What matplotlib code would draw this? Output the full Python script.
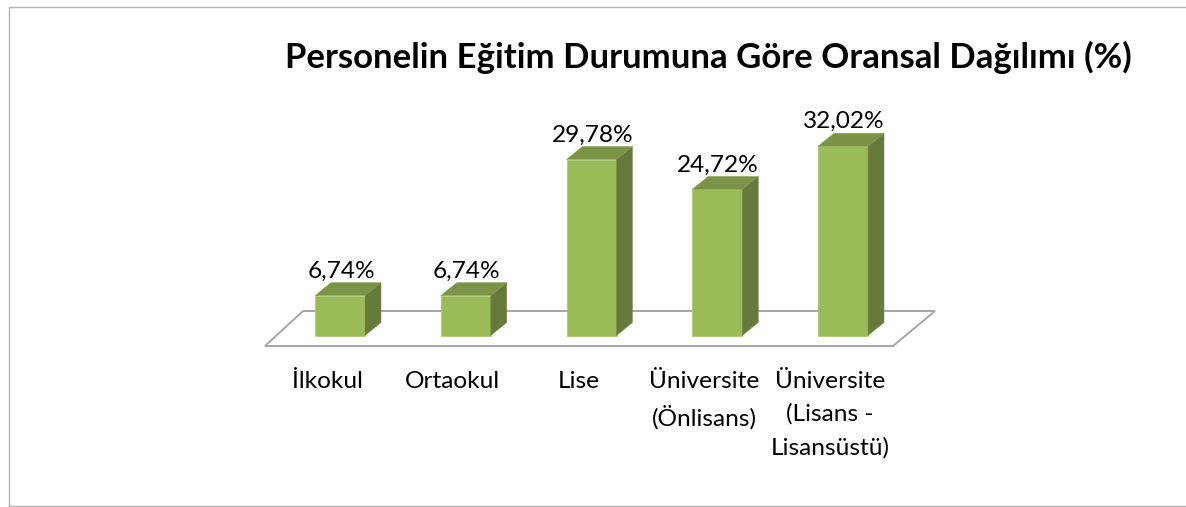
import matplotlib
matplotlib.use("Agg")
import matplotlib.pyplot as plt
from matplotlib.patches import Polygon, Rectangle

categories = ["İlkokul", "Ortaokul", "Lise", "Üniversite\n(Önlisans)", "Üniversite\n(Lisans -\nLisansüstü)"]
values = [6.74, 6.74, 29.78, 24.72, 32.02]
title = "Personelin Eğitim Durumuna Göre Oransal Dağılımı (%)"

W, H = 1186, 507
x_px = 125.75  # pixels per category
y_px = 5.91    # pixels per percent
x0_px = 340
y0_px = 335.5

plt.rcParams["font.family"] = ["Lato", "DejaVu Sans"]

fig = plt.figure(figsize=(W / 100, H / 100), dpi=100)
ax = fig.add_axes([0, 0, 1, 1])
ax.set_xlim(-x0_px / x_px, (W - x0_px) / x_px)
ax.set_ylim(-(H - y0_px) / y_px, y0_px / y_px)
ax.axis("off")

# chart frame, runs off the right edge
fig.add_artist(Rectangle((9 / W, 1 - 506 / H), 1.0, 499 / H, transform=fig.transFigure,
                         fill=False, ec="#b5b5b5", lw=1))

width = 50 / x_px
dx = 16 / x_px
dy = 13 / y_px

# floor
floor_l = -75 / x_px
floor_r = 553 / x_px
floor_low = -10.5 / y_px
floor = [(floor_l, floor_low), (floor_l + 38 / x_px, floor_low + 35 / y_px),
         (floor_r + 42 / x_px, floor_low + 35 / y_px), (floor_r, floor_low)]
ax.add_patch(Polygon(floor, closed=True, fill=False, ec="#a6a6a6", lw=1.4, zorder=1))

positions = list(range(len(values)))
ax.bar(positions, values, width=width, color="#9bbb59", edgecolor="#a9c76e", lw=0.5, zorder=3)

for x, v in zip(positions, values):
    l, r = x - width / 2, x + width / 2
    top = [(l, v), (r, v), (r + dx, v + dy), (l + dx, v + dy)]
    side = [(r, 0), (r + dx, dy), (r + dx, v + dy), (r, v)]
    ax.add_patch(Polygon(top, closed=True, fc="#7a9347", ec="#8fa85c", lw=0.4, zorder=3))
    ax.add_patch(Polygon(side, closed=True, fc="#667a3c", ec="#7d9150", lw=0.4, zorder=3))
    ax.text(x + 1 / x_px, v + dy + 1 / y_px, f"{v:.2f}%".replace(".", ","), ha="center", va="bottom",
            fontsize=17.6, color="black", zorder=4)

for x, c in zip(positions, categories):
    ax.text(x - 13 / x_px, -35 / y_px, c, ha="center", va="top", fontsize=17.6, color="black",
            linespacing=1.68)

ax.text((708 - x0_px) / x_px, (y0_px - 57) / y_px, title, ha="center", va="center",
        fontsize=25, fontweight="bold", color="black")

fig.savefig("out.png", dpi=100)
